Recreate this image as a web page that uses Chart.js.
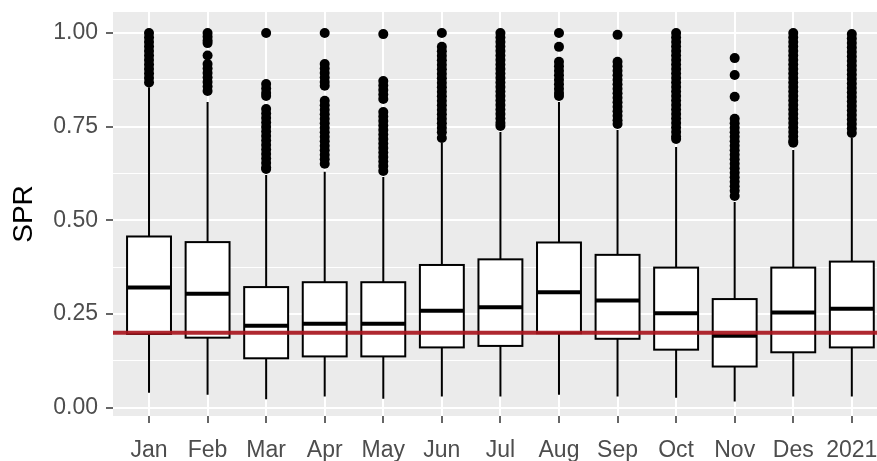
<!DOCTYPE html>
<html>
<head>
<meta charset="utf-8">
<script src="https://cdn.jsdelivr.net/npm/chart.js@4.4.1/dist/chart.umd.min.js"></script>
<style>
  html, body { margin: 0; padding: 0; background: #fff; overflow: hidden; }
  #wrap { width: 877px; height: 461px; }
</style>
</head>
<body>
<div id="wrap"><canvas id="myChart" width="877" height="461"></canvas></div>
<script>
// months on the x axis
var months = ['Jan', 'Feb', 'Mar', 'Apr', 'May', 'Jun', 'Jul', 'Aug', 'Sep', 'Oct', 'Nov', 'Des', '2021'];

// box statistics per month
var whiskerLow  = [0.040, 0.035, 0.023, 0.030, 0.024, 0.030, 0.030, 0.035, 0.030, 0.027, 0.017, 0.030, 0.030];
var q1          = [0.197, 0.187, 0.132, 0.137, 0.137, 0.161, 0.165, 0.199, 0.184, 0.155, 0.110, 0.148, 0.161];
var median      = [0.321, 0.304, 0.219, 0.224, 0.224, 0.259, 0.268, 0.308, 0.286, 0.252, 0.192, 0.254, 0.264];
var q3          = [0.457, 0.442, 0.322, 0.335, 0.335, 0.381, 0.396, 0.441, 0.408, 0.374, 0.290, 0.374, 0.390];
var whiskerHigh = [0.855, 0.816, 0.621, 0.630, 0.616, 0.707, 0.736, 0.816, 0.741, 0.696, 0.549, 0.688, 0.720];

// outlying points per month
var outliers = [
  [1.0, 0.988, 0.976, 0.964, 0.952, 0.94, 0.928, 0.916, 0.904, 0.892, 0.88, 0.868],
  [1.0, 0.99, 0.98, 0.973, 0.94, 0.917, 0.905, 0.893, 0.881, 0.869, 0.857, 0.845],
  [1.0, 0.864, 0.852, 0.84, 0.832, 0.797, 0.785, 0.773, 0.761, 0.749, 0.737, 0.725, 0.713, 0.701, 0.689, 0.677, 0.665, 0.653, 0.641, 0.637],
  [1.0, 0.917, 0.905, 0.893, 0.881, 0.869, 0.859, 0.819, 0.807, 0.795, 0.783, 0.771, 0.759, 0.747, 0.735, 0.723, 0.711, 0.699, 0.687, 0.675, 0.663, 0.651],
  [0.997, 0.872, 0.86, 0.848, 0.836, 0.824, 0.789, 0.777, 0.765, 0.753, 0.741, 0.729, 0.717, 0.705, 0.693, 0.681, 0.669, 0.657, 0.645, 0.632],
  [1.0, 0.963, 0.951, 0.939, 0.927, 0.915, 0.903, 0.891, 0.879, 0.867, 0.855, 0.843, 0.831, 0.819, 0.807, 0.795, 0.783, 0.771, 0.759, 0.747, 0.735, 0.72],
  [1.0, 0.988, 0.976, 0.964, 0.952, 0.94, 0.928, 0.916, 0.904, 0.892, 0.88, 0.868, 0.856, 0.844, 0.832, 0.82, 0.808, 0.796, 0.784, 0.772, 0.76, 0.752],
  [1.0, 0.963, 0.923, 0.911, 0.899, 0.887, 0.875, 0.863, 0.851, 0.84, 0.832],
  [0.995, 0.923, 0.911, 0.899, 0.887, 0.875, 0.863, 0.851, 0.839, 0.827, 0.815, 0.803, 0.791, 0.779, 0.767, 0.757],
  [1.0, 0.988, 0.976, 0.964, 0.952, 0.94, 0.928, 0.916, 0.904, 0.892, 0.88, 0.868, 0.856, 0.844, 0.832, 0.82, 0.808, 0.796, 0.784, 0.772, 0.76, 0.748, 0.736, 0.724, 0.717],
  [0.933, 0.888, 0.83, 0.771, 0.759, 0.747, 0.735, 0.723, 0.711, 0.699, 0.687, 0.675, 0.663, 0.651, 0.639, 0.627, 0.615, 0.603, 0.591, 0.579, 0.565],
  [1.0, 0.988, 0.976, 0.964, 0.952, 0.94, 0.928, 0.916, 0.904, 0.892, 0.88, 0.868, 0.856, 0.844, 0.832, 0.82, 0.808, 0.796, 0.784, 0.772, 0.76, 0.748, 0.736, 0.724, 0.712, 0.707],
  [0.997, 0.985, 0.973, 0.961, 0.949, 0.937, 0.925, 0.913, 0.901, 0.889, 0.877, 0.865, 0.853, 0.841, 0.829, 0.817, 0.805, 0.793, 0.781, 0.769, 0.757, 0.745, 0.733]
];

// y ticks (majors get labels, the rest are minor grid lines)
var yTicks = [0, 0.125, 0.25, 0.375, 0.5, 0.625, 0.75, 0.875, 1.0];
var refLine = 0.2;

function isMajor(v) {
  return Math.abs(v * 4 - Math.round(v * 4)) < 1e-6;
}

// keep chart.js from reserving room for label overhang
function noOverhang(scale) {
  scale.paddingTop = 0;
  scale.paddingBottom = 0;
  scale.paddingLeft = 0;
  scale.paddingRight = 0;
}

var points = [];
outliers.forEach(function (list, i) {
  list.forEach(function (v) { points.push({ x: i, y: v }); });
});

var panelBg = {
  id: 'panelBg',
  beforeDraw: function (chart) {
    var a = chart.chartArea, ctx = chart.ctx;
    ctx.save();
    ctx.fillStyle = '#EBEBEB';
    ctx.fillRect(a.left, a.top, a.right - a.left, a.bottom - a.top);
    ctx.restore();
  }
};

var boxes = {
  id: 'boxes',
  beforeDatasetsDraw: function (chart) {
    var ctx = chart.ctx, xs = chart.scales.x, ys = chart.scales.y;
    ctx.save();
    ctx.strokeStyle = '#000';
    for (var i = 0; i < months.length; i++) {
      var xc = xs.getPixelForValue(i);
      var xl = xs.getPixelForValue(i - 0.375);
      var xr = xs.getPixelForValue(i + 0.375);
      var yLo = ys.getPixelForValue(whiskerLow[i]);
      var yHi = ys.getPixelForValue(whiskerHigh[i]);
      var y1 = ys.getPixelForValue(q1[i]);
      var y3 = ys.getPixelForValue(q3[i]);
      var ym = ys.getPixelForValue(median[i]);

      ctx.lineWidth = 2;
      ctx.beginPath();
      ctx.moveTo(xc, y1); ctx.lineTo(xc, yLo);
      ctx.moveTo(xc, y3); ctx.lineTo(xc, yHi);
      ctx.stroke();

      ctx.fillStyle = '#fff';
      ctx.fillRect(xl, y3, xr - xl, y1 - y3);
      ctx.strokeRect(xl, y3, xr - xl, y1 - y3);

      ctx.lineWidth = 4;
      ctx.beginPath();
      ctx.moveTo(xl, ym); ctx.lineTo(xr, ym);
      ctx.stroke();
    }
    ctx.restore();
  }
};

var redLine = {
  id: 'redLine',
  afterDatasetsDraw: function (chart) {
    var ctx = chart.ctx, a = chart.chartArea;
    var y = chart.scales.y.getPixelForValue(refLine);
    ctx.save();
    ctx.strokeStyle = 'rgba(168, 22, 30, 0.92)';
    ctx.lineWidth = 4;
    ctx.beginPath();
    ctx.moveTo(a.left, y);
    ctx.lineTo(a.right, y);
    ctx.stroke();
    ctx.restore();
  }
};

var ctx = document.getElementById('myChart').getContext('2d');
var myChart = new Chart(ctx, {
  type: 'scatter',
  data: {
    datasets: [{
      data: points,
      pointRadius: 5,
      pointBackgroundColor: '#000',
      pointBorderWidth: 0,
      showLine: false
    }]
  },
  options: {
    responsive: false,
    animation: false,
    events: [],
    layout: { autoPadding: false, padding: { top: 12, right: 0, bottom: 0, left: 0 } },
    plugins: { legend: { display: false }, tooltip: { enabled: false } },
    scales: {
      x: {
        type: 'linear',
        min: -0.615,
        max: 12.43,
        afterBuildTicks: function (scale) {
          scale.ticks = months.map(function (m, i) { return { value: i }; });
        },
        afterFit: function (scale) { scale.height = 45; noOverhang(scale); },
        border: { display: false },
        grid: { color: '#fff', lineWidth: 2, tickColor: '#333', tickLength: 7, tickWidth: 1.5 },
        ticks: {
          autoSkip: false,
          maxRotation: 0,
          padding: 14,
          color: '#4D4D4D',
          font: { family: 'Liberation Sans, Arial, sans-serif', size: 23 },
          callback: function (v) { return months[v]; }
        }
      },
      y: {
        type: 'linear',
        min: -0.022,
        max: 1.056,
        afterBuildTicks: function (scale) {
          scale.ticks = yTicks.map(function (v) { return { value: v }; });
        },
        afterFit: function (scale) { scale.width = 113; noOverhang(scale); },
        border: { display: false },
        grid: {
          color: '#fff',
          lineWidth: function (c) { return isMajor(c.tick.value) ? 2 : 1; },
          tickColor: function (c) { return isMajor(c.tick.value) ? '#333' : 'rgba(0,0,0,0)'; },
          tickLength: 7,
          tickWidth: 1.5
        },
        ticks: {
          padding: 8,
          color: '#4D4D4D',
          font: { family: 'Liberation Sans, Arial, sans-serif', size: 23 },
          callback: function (v) { return isMajor(v) ? v.toFixed(2) : ''; }
        },
        title: {
          display: true,
          text: 'SPR',
          color: '#000',
          padding: { top: 7, bottom: 0 },
          font: { family: 'Liberation Sans, Arial, sans-serif', size: 28 }
        }
      }
    }
  },
  plugins: [panelBg, boxes, redLine]
});
</script>
</body>
</html>
